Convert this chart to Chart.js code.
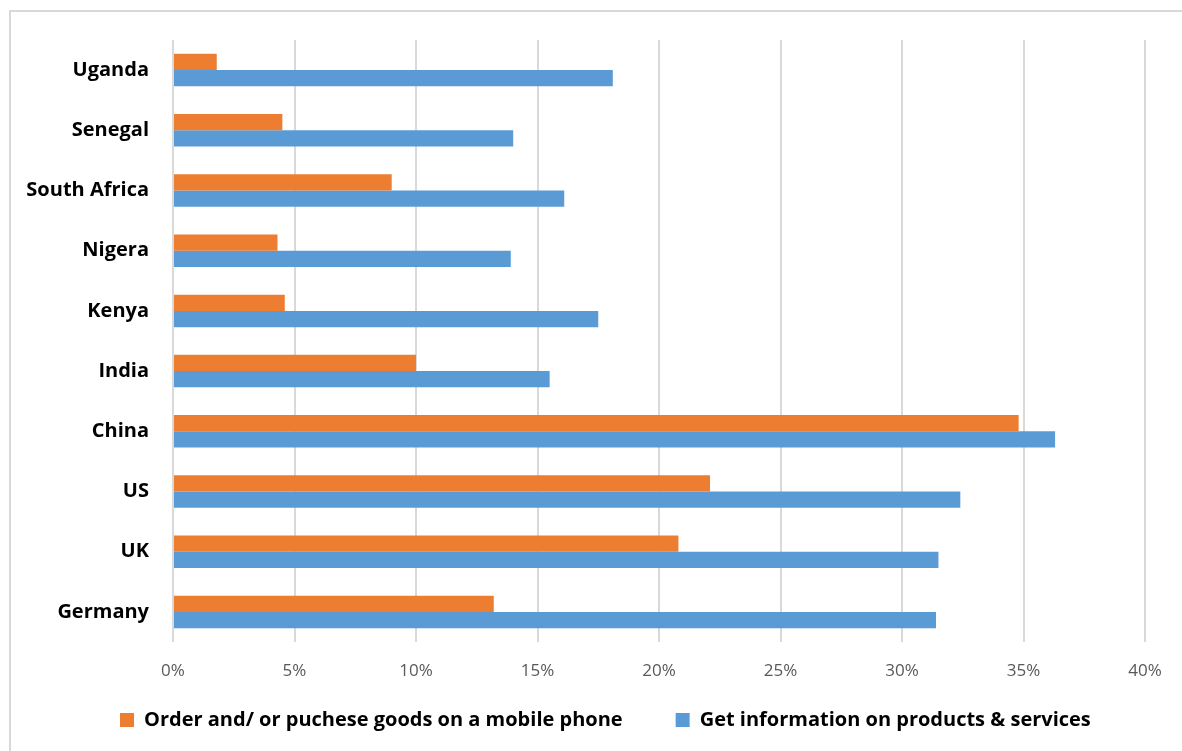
<!DOCTYPE html>
<html>
<head>
<meta charset="utf-8">
<script src="https://cdn.jsdelivr.net/npm/chart.js@4/dist/chart.umd.min.js"></script>
<style>
  html, body { margin: 0; padding: 0; background: #fff; overflow: hidden; }
  canvas { display: block; }
</style>
</head>
<body>
<canvas id="c" width="1182" height="751"></canvas>
<script>
const categories = ["Uganda", "Senegal", "South Africa", "Nigera", "Kenya", "India", "China", "US", "UK", "Germany"];
const orderGoods = [1.8, 4.5, 9.0, 4.3, 4.6, 10.0, 34.8, 22.1, 20.8, 13.2];
const getInfo = [18.1, 14.0, 16.1, 13.9, 17.5, 15.5, 36.3, 32.4, 31.5, 31.4];
const seriesNames = ["Order and/ or puchese goods on a mobile phone", "Get information on products & services"];
const xTicks = [0, 5, 10, 15, 20, 25, 30, 35, 40];

const FONT = "'Open Sans', 'Liberation Sans', sans-serif";

const legendPlacer = {
  id: 'legendPlacer',
  afterLayout(chart) {
    const lg = chart.legend;
    if (!lg) return;
    lg.left = 67; lg.right = 1182; lg.width = 1115;
    lg.top = 657; lg.bottom = 751; lg.height = 94;
  }
};

const framePlugin = {
  id: 'framePlugin',
  beforeDraw(chart) {
    const ctx = chart.ctx;
    ctx.save();
    ctx.fillStyle = '#ffffff';
    ctx.fillRect(0, 0, chart.width, chart.height);
    ctx.fillStyle = '#d9d9d9';
    ctx.fillRect(9, 10, 2, chart.height - 10);
    ctx.fillRect(9, 10, chart.width - 9, 2);
    ctx.restore();
  }
};

new Chart(document.getElementById('c'), {
  type: 'bar',
  data: {
    labels: categories,
    datasets: [
      { label: seriesNames[0], data: orderGoods, backgroundColor: '#ED7D31', borderWidth: 0,
        barPercentage: 1.0, categoryPercentage: 0.54 },
      { label: seriesNames[1], data: getInfo, backgroundColor: '#5B9BD5', borderWidth: 0,
        barPercentage: 1.0, categoryPercentage: 0.54 }
    ]
  },
  plugins: [framePlugin, legendPlacer],
  options: {
    indexAxis: 'y',
    responsive: false,
    animation: false,
    layout: { padding: { left: 0, right: 37, top: 40, bottom: 0 } },
    scales: {
      x: {
        min: 0, max: 40,
        afterBuildTicks: (s) => { s.ticks = xTicks.map(v => ({ value: v })); },
        afterFit: (s) => { s.height = 108; },
        border: { display: false },
        grid: { color: '#d9d9d9', lineWidth: 2, drawTicks: false },
        ticks: { padding: 19, color: '#595959', font: { family: FONT, size: 17 },
                 callback: (v) => v + '%' }
      },
      y: {
        afterFit: (s) => { s.width = 173; },
        border: { display: false },
        grid: { display: false, drawTicks: false },
        ticks: { padding: 24, color: '#000000', font: { family: FONT, size: 20, weight: 'bold' } }
      }
    },
    plugins: {
      legend: {
        position: 'bottom',
        align: 'start',
        maxHeight: 1,
        labels: {
          boxWidth: 14, boxHeight: 14, padding: 53,
          color: '#000000', font: { family: FONT, size: 20, weight: 'bold' }
        }
      },
      tooltip: { enabled: false }
    }
  }
});
</script>
</body>
</html>
